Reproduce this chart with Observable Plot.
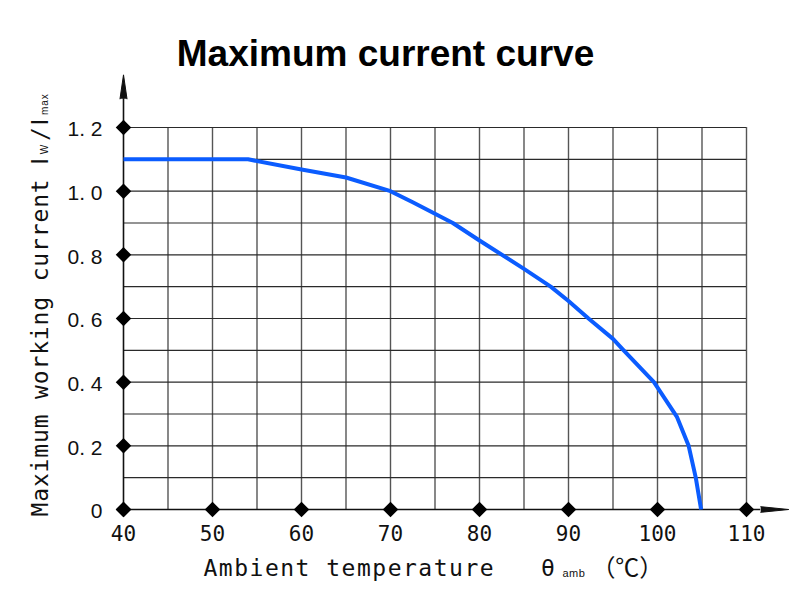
<!DOCTYPE html>
<html><head><meta charset="utf-8">
<script src="https://cdn.jsdelivr.net/npm/d3@7"></script>
<script src="https://cdn.jsdelivr.net/npm/@observablehq/plot@0.6"></script>
<style>body{margin:0;background:#fff}</style>
</head><body><div id="chart"></div>
<script>
// ---- data ----
const temps    = [40, 54, 60, 65, 70, 72.5, 75, 77, 80, 85, 88, 90, 92.25, 95, 96.2, 99.6, 102.2, 103.5, 104.3, 104.9];
const currents = [1.1, 1.1, 1.068, 1.043, 1.0, 0.965, 0.929, 0.9, 0.845, 0.756, 0.7, 0.655, 0.6, 0.536, 0.5, 0.4, 0.29, 0.2, 0.1, 0];
const xTicks = [40, 50, 60, 70, 80, 90, 100, 110];
const xTickLabels = ["40", "50", "60", "70", "80", "90", "100", "110"];
const yTicks = [0, 0.2, 0.4, 0.6, 0.8, 1.0, 1.2];
const yTickLabels = ["0", "0. 2", "0. 4", "0. 6", "0. 8", "1. 0", "1. 2"];
const xGrid = [45, 50, 55, 60, 65, 70, 75, 80, 85, 90, 95, 100, 105, 110];
const yGrid = [0.1, 0.2, 0.3, 0.4, 0.5, 0.6, 0.7, 0.8, 0.9, 1.0, 1.1, 1.2];
const xDomain = [40, 110];
const yDomain = [0, 1.2];
const xAxisEnd = 111.6;
const yAxisEnd = 1.29;
const titleText = "Maximum current curve";
const xLabelText = "Ambient temperature";
const yLabelText = "Maximum working current";

const curve = temps.map((t, i) => ({t, c: currents[i]}));
const yTickData = yTicks.map((v, i) => ({v, label: yTickLabels[i]}));
const xTickData = xTicks.map((v, i) => ({v, label: xTickLabels[i]}));

const mono = "'DejaVu Sans Mono', monospace";
const sans = "'Liberation Sans', Arial, sans-serif";

const chart = Plot.plot({
  width: 800, height: 600,
  marginLeft: 123, marginRight: 54, marginTop: 127, marginBottom: 91,
  x: {domain: xDomain, axis: null},
  y: {domain: yDomain, axis: null},
  style: {background: "#fff", overflow: "visible"},
  marks: [
    Plot.ruleX(xGrid, {x: d => d, y1: yDomain[0], y2: yDomain[1], stroke: "#555", strokeWidth: 1.4}),
    Plot.ruleY(yGrid, {y: d => d, x1: xDomain[0], x2: xDomain[1], stroke: "#2a2a2a", strokeWidth: 1.2}),
    Plot.ruleX([xDomain[0]], {x: d => d, y1: yDomain[0], y2: yAxisEnd, stroke: "#111", strokeWidth: 1.6}),
    Plot.ruleY([yDomain[0]], {y: d => d, x1: xDomain[0], x2: xAxisEnd, stroke: "#111", strokeWidth: 1.6}),
    Plot.vector([yAxisEnd], {x: xDomain[0], y: d => d, shape: "spike", anchor: "start", length: 24, r: 3.5, rotate: 0,
      fill: "#111", fillOpacity: 1, stroke: "#111", strokeWidth: 1}),
    Plot.vector([xAxisEnd], {x: d => d, y: yDomain[0], shape: "spike", anchor: "start", length: 28, r: 2.8, rotate: 90,
      fill: "#111", fillOpacity: 1, stroke: "#111", strokeWidth: 1}),
    Plot.line(curve, {x: "t", y: "c", stroke: "#0b5cff", strokeWidth: 4, strokeLinejoin: "round", strokeLinecap: "butt"}),
    Plot.dot(xTicks, {x: d => d, y: yDomain[0], symbol: "diamond2", r: 7, fill: "#000", stroke: "none"}),
    Plot.dot(yTicks, {x: xDomain[0], y: d => d, symbol: "diamond2", r: 7, fill: "#000", stroke: "none"}),
    Plot.text(yTickData, {y: "v", text: "label", frameAnchor: "left", dx: -21, dy: 2, textAnchor: "end",
      lineAnchor: "middle", fontSize: 21, fontFamily: sans, fill: "#111"}),
    Plot.text(xTickData, {x: "v", text: "label", frameAnchor: "bottom", dy: 31, lineAnchor: "bottom",
      fontSize: 21, fontFamily: mono, fill: "#111"}),
    Plot.text([titleText], {text: d => d, frameAnchor: "top", dx: -49.5, dy: -62, lineAnchor: "bottom",
      fontSize: 37, fontWeight: "bold", fontFamily: sans, fill: "#000"}),
    Plot.text([xLabelText], {text: d => d, frameAnchor: "bottom-left", dx: 80, dy: 66, lineAnchor: "bottom",
      textAnchor: "start", fontSize: 23, fontFamily: mono, fill: "#111", className: "xlab"}),
    Plot.text([yLabelText], {text: d => d, frameAnchor: "bottom-left", dx: -76, dy: 7, lineAnchor: "bottom",
      textAnchor: "start", rotate: -90, fontSize: 23, fontFamily: mono, fill: "#111", className: "ylab"})
  ]
});

// add sub-scripted parts of the axis labels as real text
const svg = d3.select(chart);
svg.select("g.xlab text").each(function() {
  const t = d3.select(this).style("letter-spacing", "1.5px");
  t.append("tspan").attr("dx", 46).text("θ");
  t.append("tspan").attr("dx", 6).attr("dy", 1).style("font-size", "11px").style("letter-spacing", "0.5px")
    .style("font-family", sans).text("amb");
  t.append("tspan").attr("dx", 6).attr("dy", -1).style("font-family", "'Noto Sans CJK SC', sans-serif")
    .style("font-size", "24px").style("letter-spacing", "0px").text("（℃）");
});
svg.select("g.ylab text").each(function() {
  const t = d3.select(this).style("letter-spacing", "0.85px");
  t.append("tspan").attr("dx", 14).style("font-family", sans).text("I");
  t.append("tspan").attr("dx", 3).style("font-size", "10px").style("font-family", sans).text("W");
  t.append("tspan").attr("dx", 3).text("/");
  t.append("tspan").attr("dx", 1).style("font-family", sans).text("I");
  t.append("tspan").attr("dx", 3).style("font-size", "10px").style("font-family", sans).text("max");
});

document.getElementById("chart").appendChild(chart);
</script>
</body></html>
